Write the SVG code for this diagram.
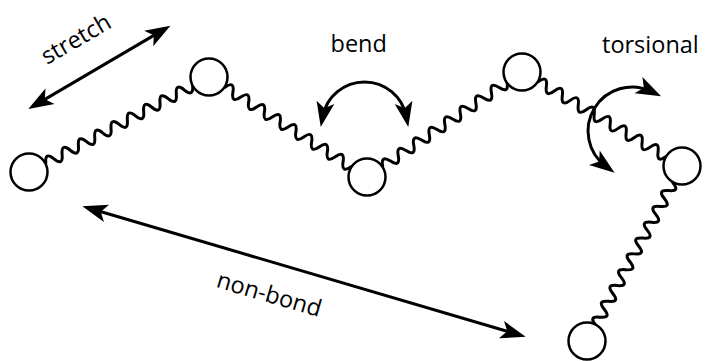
<svg xmlns="http://www.w3.org/2000/svg" width="705" height="361" viewBox="0 0 705 361">
<style>
.atom{fill:#fff;stroke:#000;stroke-width:2.5}
.spring{fill:none;stroke:#000;stroke-width:3;stroke-linecap:round}
.arrow{fill:none;stroke:#000;stroke-width:3;marker-start:url(#ah);marker-end:url(#ah)}
.lbl{font-family:"Open Sans","DejaVu Sans",sans-serif;font-size:23.5px;fill:#000}
</style>
<defs>
<marker id="ah" markerUnits="userSpaceOnUse" markerWidth="30" markerHeight="30" viewBox="-15 -10 25 20" refX="0" refY="0" orient="auto-start-reverse" overflow="visible">
<path d="M9,0 L-12,-7.5 L-7,0 L-12,7.5 Z" fill="#000"/>
</marker>
</defs>
<rect width="705" height="361" fill="#fff"/>
<g id="connectors">
<path class="spring" transform="translate(29,172) rotate(-27.8)" d="M19,0 c3.07,-7.33 6.15,-7.33 9.22,0 s6.15,7.33 9.22,0 s6.15,-7.33 9.22,0 s6.15,7.33 9.22,0 s6.15,-7.33 9.22,0 s6.15,7.33 9.22,0 s6.15,-7.33 9.22,0 s6.15,7.33 9.22,0 s6.15,-7.33 9.22,0 s6.15,7.33 9.22,0 s6.15,-7.33 9.22,0 s6.15,7.33 9.22,0 s6.15,-7.33 9.22,0 s6.15,7.33 9.22,0 s6.15,-7.33 9.22,0 s6.15,7.33 9.22,0 s6.15,-7.33 9.22,0 s6.15,7.33 9.22,0"/>
<path class="spring" transform="translate(209,77) rotate(32.3)" d="M19,0 c3.1,-7.33 6.21,-7.33 9.31,0 s6.21,7.33 9.31,0 s6.21,-7.33 9.31,0 s6.21,7.33 9.31,0 s6.21,-7.33 9.31,0 s6.21,7.33 9.31,0 s6.21,-7.33 9.31,0 s6.21,7.33 9.31,0 s6.21,-7.33 9.31,0 s6.21,7.33 9.31,0 s6.21,-7.33 9.31,0 s6.21,7.33 9.31,0 s6.21,-7.33 9.31,0 s6.21,7.33 9.31,0 s6.21,-7.33 9.31,0 s6.21,7.33 9.31,0"/>
<path class="spring" transform="translate(367,177) rotate(-34.1)" d="M19,0 c3.125,-7.33 6.25,-7.33 9.375,0 s6.25,7.33 9.375,0 s6.25,-7.33 9.375,0 s6.25,7.33 9.375,0 s6.25,-7.33 9.375,0 s6.25,7.33 9.375,0 s6.25,-7.33 9.375,0 s6.25,7.33 9.375,0 s6.25,-7.33 9.375,0 s6.25,7.33 9.375,0 s6.25,-7.33 9.375,0 s6.25,7.33 9.375,0 s6.25,-7.33 9.375,0 s6.25,7.33 9.375,0 s6.25,-7.33 9.375,0 s6.25,7.33 9.375,0"/>
<path class="spring" transform="translate(522,72) rotate(30.4)" d="M19,0 c3.08,-7.33 6.17,-7.33 9.25,0 s6.17,7.33 9.25,0 s6.17,-7.33 9.25,0 s6.17,7.33 9.25,0 s6.17,-7.33 9.25,0 s6.17,7.33 9.25,0 s6.17,-7.33 9.25,0 s6.17,7.33 9.25,0 s6.17,-7.33 9.25,0 s6.17,7.33 9.25,0 s6.17,-7.33 9.25,0 s6.17,7.33 9.25,0 s6.17,-7.33 9.25,0 s6.17,7.33 9.25,0 s6.17,-7.33 9.25,0 s6.17,7.33 9.25,0"/>
<path class="spring" transform="translate(682,166) rotate(118.5)" d="M19,0 c3,-7.33 6,-7.33 9,0 s6,7.33 9,0 s6,-7.33 9,0 s6,7.33 9,0 s6,-7.33 9,0 s6,7.33 9,0 s6,-7.33 9,0 s6,7.33 9,0 s6,-7.33 9,0 s6,7.33 9,0 s6,-7.33 9,0 s6,7.33 9,0 s6,-7.33 9,0 s6,7.33 9,0 s6,-7.33 9,0 s6,7.33 9,0 s6,-7.33 9,0 s6,7.33 9,0"/>
</g>
<g id="atom1"><circle class="atom" cx="29" cy="172" r="18.5"/></g>
<g id="atom2"><circle class="atom" cx="209" cy="77" r="18.5"/></g>
<g id="atom3"><circle class="atom" cx="367" cy="177" r="18.5"/></g>
<g id="atom4"><circle class="atom" cx="522" cy="72" r="18.5"/></g>
<g id="atom5"><circle class="atom" cx="682" cy="166" r="18.5"/></g>
<g id="atom6"><circle class="atom" cx="587" cy="341" r="18.5"/></g>
<g id="arrows">
<path id="stretch-arrow" class="arrow" d="M37.6,103.6 L161.1,31.1"/>
<path id="nonbond-arrow" class="arrow" d="M92.7,209.3 L515.3,333.7"/>
<path id="bend-arrow" class="arrow" d="M322.75,116.5 A42.5,42.5 0 0 1 406.25,116.5"/>
<path id="torsion-arrow" class="arrow" d="M651.4,91.5 A44,44 0 0 0 605.9,166.4"/>
</g>
<g id="labels">
<text class="lbl" text-anchor="middle" transform="translate(80,46) rotate(-30)">stretch</text>
<text class="lbl" x="330.5" y="52">bend</text>
<text class="lbl" x="602" y="53">torsional</text>
<text class="lbl" text-anchor="middle" transform="translate(267,302) rotate(16.3)">non-bond</text>
</g>
</svg>
